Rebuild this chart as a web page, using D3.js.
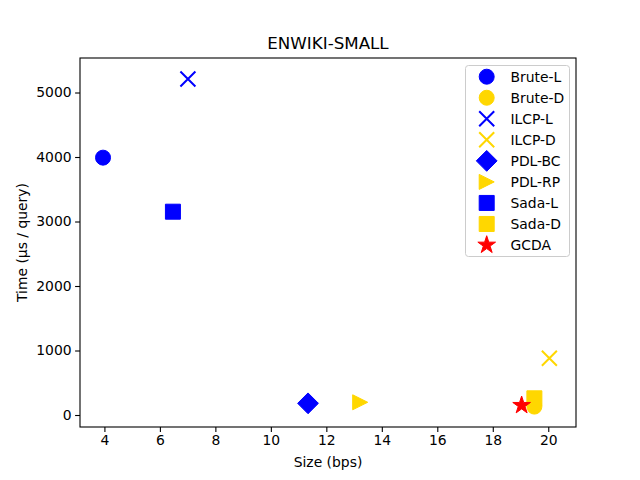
<!DOCTYPE html>
<html><head><meta charset="utf-8">
<script src="https://cdn.jsdelivr.net/npm/d3@7"></script>
<style>body{margin:0;background:#fff}svg{display:block}text{font-family:"DejaVu Sans",sans-serif;fill:#000}</style>
</head><body>
<script>
const names = ["Brute-L","Brute-D","ILCP-L","ILCP-D","PDL-BC","PDL-RP","Sada-L","Sada-D","GCDA"];
const sizes = [3.95, 19.5, 7.01, 20.04, 11.34, 13.22, 6.47, 19.5, 19.04];
const times = [3990, 130, 5210, 880, 181, 197, 3152, 259, 150];
const colors = ["#0000ff","#ffd700","#0000ff","#ffd700","#0000ff","#ffd700","#0000ff","#ffd700","#ff0000"];
const shapes = ["circle","circle","x","x","diamond","triRight","square","square","star"];
const xTicks = [4,6,8,10,12,14,16,18,20];
const yTicks = [0,1000,2000,3000,4000,5000];

const W=640,H=480, L=80, R=576, T=58, B=427;
const svg = d3.select("body").append("svg").attr("width",W).attr("height",H);
const x = d3.scaleLinear().domain([3.12,21.0]).range([L,R]);
const y = d3.scaleLinear().domain([-186,5535]).range([B,T]);

function markerPath(shape){
  const s=15, h=s/2;
  switch(shape){
    case "circle": return d3.symbol().type(d3.symbolCircle).size(Math.PI*h*h)();
    case "square": return `M${-h},${-h}H${h}V${h}H${-h}Z`;
    case "diamond": { const d=10.4; return `M0,${-d}L${d},0L0,${d}L${-d},0Z`; }
    case "triRight": return `M${h},0L${-h},${h}L${-h},${-h}Z`;
    case "x": return `M${-h},${-h}L${h},${h}M${-h},${h}L${h},${-h}`;
    case "star": {
      let p=[]; const ro=9.3, ri=ro*0.381966;
      for(let i=0;i<10;i++){const a=-Math.PI/2+i*Math.PI/5; const r=i%2?ri:ro; p.push([r*Math.cos(a),r*Math.sin(a)]);}
      return "M"+p.map(q=>q.join(",")).join("L")+"Z";
    }
  }
}
function drawMarker(g,shape,color){
  const p=g.append("path").attr("d",markerPath(shape));
  if(shape==="x") p.attr("fill","none").attr("stroke",color).attr("stroke-width",2);
  else p.attr("fill",color).attr("stroke",color).attr("stroke-width",1);
}

// axes
const xa = svg.append("g").attr("transform",`translate(0,${B})`)
  .call(d3.axisBottom(x).tickValues(xTicks).tickFormat(d3.format("d")).tickSize(4.9).tickPadding(3.5).tickSizeOuter(0));
const ya = svg.append("g").attr("transform",`translate(${L},0)`)
  .call(d3.axisLeft(y).tickValues(yTicks).tickFormat(d3.format("d")).tickSize(4.9).tickPadding(3.5).tickSizeOuter(0));
[xa,ya].forEach(a=>{a.select(".domain").remove();a.selectAll("line").attr("stroke","#000").attr("stroke-width",1.1);
  a.selectAll("text").style("font-size","13.9px").attr("font-family","DejaVu Sans");});
svg.append("rect").attr("x",L).attr("y",T).attr("width",R-L).attr("height",B-T)
  .attr("fill","none").attr("stroke","#000").attr("stroke-width",1.1);

// points
names.forEach((n,i)=>{
  const g=svg.append("g").attr("transform",`translate(${x(sizes[i])},${y(times[i])})`);
  drawMarker(g,shapes[i],colors[i]);
});

// labels
svg.append("text").attr("x",(L+R)/2).attr("y",49).attr("text-anchor","middle").style("font-size","16.7px").text("ENWIKI-SMALL");
svg.append("text").attr("x",(L+R)/2).attr("y",467).attr("text-anchor","middle").style("font-size","13.9px").text("Size (bps)");
svg.append("text").attr("transform",`translate(27,${(T+B)/2}) rotate(-90)`).attr("text-anchor","middle").style("font-size","13.9px").text("Time (μs / query)");

// legend
const lg=svg.append("g");
lg.append("rect").attr("x",465.5).attr("y",65.5).attr("width",104).attr("height",191).attr("rx",3)
  .attr("fill","#fff").attr("fill-opacity",0.8).attr("stroke","#ccc").attr("stroke-width",1);
names.forEach((n,i)=>{
  const cy=76.7+i*21.04;
  const g=lg.append("g").attr("transform",`translate(486.7,${cy})`);
  drawMarker(g,shapes[i],colors[i]);
  lg.append("text").attr("x",510.5).attr("y",cy+5).style("font-size","13.9px").text(n);
});
</script>
</body></html>
